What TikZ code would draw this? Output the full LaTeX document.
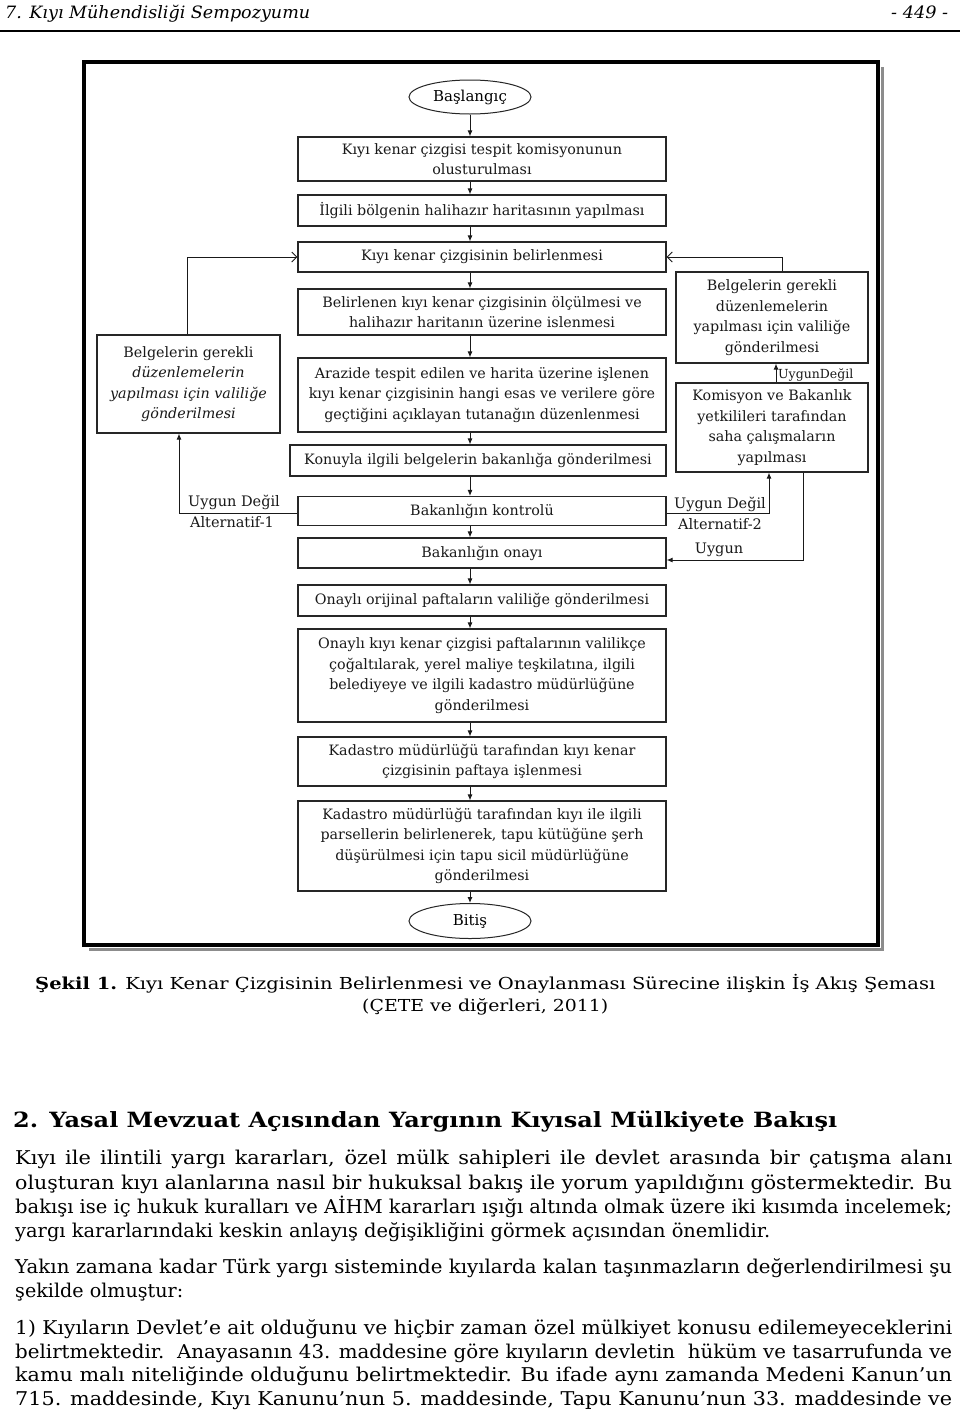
\documentclass[tikz,border=0pt]{standalone}
\usepackage{fontspec}
\usepackage{graphicx}
\setmainfont{DejaVu Serif}
\newfontfamily\bodyfam{DejaVu Serif}[FakeStretch=1.1]
\usetikzlibrary{arrows.meta,shapes.geometric}
\newcommand\flowfont{\fontsize{14.3}{20.5}\selectfont}
\newcommand\lblfont{\fontsize{14.5}{16}\selectfont}
\newcommand\bodyfont{\bodyfam\fontsize{19}{24}\selectfont}
\newcommand\fitw[2]{\resizebox{#1}{\height}{#2}}
\newcommand\jline[2]{\setbox0=\hbox{#2}\ifdim\wd0>#1\relax\resizebox{#1}{\height}{\box0}\else\hbox to #1{\unhbox0}\fi}
\tikzset{
  box/.style={draw=black!85, line width=1.1pt, rectangle, inner sep=2pt, align=center, font=\flowfont, text=black!90},
  oval/.style={draw=black!85, line width=1pt, ellipse, inner sep=0pt, font=\fontsize{15}{18}\selectfont},
  arr/.style={-{Latex[length=6pt,width=5pt]}, line width=1pt, draw=black!90},
  barb/.style={-{Straight Barb[length=5pt,width=10pt]}, line width=1pt, draw=black!90},
  lbl/.style={font=\lblfont, inner sep=0pt, text=black!90},
  ptext/.style={anchor=base west, inner sep=0pt, font=\bodyfont},
}
\begin{document}
\begin{tikzpicture}[x=1pt,y=-1pt]
\useasboundingbox (0,0) rectangle (960,1411);
\fill[white] (0,0) rectangle (960,1411);
% header
\node[anchor=base west, inner sep=0pt, font=\fontsize{17}{20}\selectfont\itshape] (hdr) at (5,18) {\fitw{305pt}{7. Kıyı Mühendisliği Sempozyumu}};
\node[anchor=base west, inner sep=0pt, font=\fontsize{17}{20}\selectfont\itshape] (pg) at (891,18) {\fitw{57pt}{- 449 -}};
\draw[line width=2pt] (0,31) -- (960,31);
% frame
\draw[black!45, line width=3pt] (882,67) -- (882,949) -- (89,949);
\draw[line width=3.5pt] (84,62) rectangle (878,945);
% flow nodes
\node[oval, minimum width=122pt, minimum height=34pt] (s) at (470,97) {Başlangıç};
\node[box, minimum width=368pt, minimum height=44pt] (b1) at (482,159) {Kıyı kenar çizgisi tespit  komisyonunun\\olusturulması};
\node[box, minimum width=368pt, minimum height=31pt] (b2) at (482,210.5) {İlgili bölgenin halihazır haritasının yapılması};
\node[box, minimum width=368pt, minimum height=30pt] (b3) at (482,257) {Kıyı  kenar çizgisinin belirlenmesi};
\node[box, minimum width=368pt, minimum height=46pt] (b4) at (482,312) {Belirlenen kıyı kenar çizgisinin ölçülmesi ve\\halihazır haritanın üzerine islenmesi};
\node[box, minimum width=368pt, minimum height=74pt] (b5) at (482,395) {Arazide tespit edilen ve harita üzerine işlenen\\kıyı kenar çizgisinin hangi esas ve verilere göre\\geçtiğini açıklayan tutanağın düzenlenmesi};
\node[box, minimum width=376pt, minimum height=31pt] (b6) at (478,460.5) {Konuyla ilgili belgelerin bakanlığa  gönderilmesi};
\node[box, minimum width=368pt, minimum height=29pt] (b7) at (482,511) {Bakanlığın kontrolü};
\node[box, minimum width=368pt, minimum height=30pt] (b8) at (482,553) {Bakanlığın onayı};
\node[box, minimum width=368pt, minimum height=31pt] (b9) at (482,600.5) {Onaylı orijinal paftaların valiliğe gönderilmesi};
\node[box, minimum width=368pt, minimum height=93pt] (b10) at (482,675.5) {Onaylı kıyı kenar çizgisi paftalarının valilikçe\\çoğaltılarak, yerel maliye teşkilatına, ilgili\\belediyeye ve ilgili kadastro müdürlüğüne\\gönderilmesi};
\node[box, minimum width=368pt, minimum height=49pt] (b11) at (482,761.5) {Kadastro müdürlüğü  tarafından kıyı kenar\\çizgisinin paftaya işlenmesi};
\node[box, minimum width=368pt, minimum height=90pt] (b12) at (482,846) {Kadastro müdürlüğü tarafından kıyı ile ilgili\\parsellerin belirlenerek, tapu kütüğüne şerh\\düşürülmesi için tapu sicil müdürlüğüne\\gönderilmesi};
\node[oval, minimum width=122pt, minimum height=35pt] (e) at (470,921) {Bitiş};
\node[box, minimum width=183pt, minimum height=98pt] (L) at (188.5,384) {Belgelerin gerekli\\\textit{düzenlemelerin}\\\textit{yapılması için valiliğe}\\\textit{gönderilmesi}};
\node[box, minimum width=192pt, minimum height=91pt] (R1) at (772,317.5) {Belgelerin gerekli\\düzenlemelerin\\yapılması için valiliğe\\gönderilmesi};
\node[box, minimum width=192pt, minimum height=89pt] (R2) at (772,427.5) {Komisyon ve Bakanlık\\yetkilileri tarafından\\saha çalışmaların\\yapılması};
% main arrows
\draw[arr] (s.south) -- (b1.north -| s.south);
\draw[arr] (b1.south -| s.south) -- (b2.north -| s.south);
\draw[arr] (b2.south -| s.south) -- (b3.north -| s.south);
\draw[arr] (b3.south -| s.south) -- (b4.north -| s.south);
\draw[arr] (b4.south -| s.south) -- (b5.north -| s.south);
\draw[arr] (b5.south -| s.south) -- (b6.north -| s.south);
\draw[arr] (b6.south -| s.south) -- (b7.north -| s.south);
\draw[arr] (b7.south -| s.south) -- (b8.north -| s.south);
\draw[arr] (b8.south -| s.south) -- (b9.north -| s.south);
\draw[arr] (b9.south -| s.south) -- (b10.north -| s.south);
\draw[arr] (b10.south -| s.south) -- (b11.north -| s.south);
\draw[arr] (b11.south -| s.south) -- (b12.north -| s.south);
\draw[arr] (b12.south -| s.south) -- (e.north);
% loops
\draw[barb] ([xshift=-1.5pt]L.north) |- (b3.west);
\draw[arr] ([yshift=-2pt]b7.west) -| ([xshift=-9.5pt]L.south);
\draw[barb] ([xshift=10pt]R1.north) |- (b3.east);
\draw[arr] ([xshift=4pt]R2.north) -- ([xshift=4pt]R1.south);
\draw[arr] ([yshift=-2pt]b7.east) -| ([xshift=-3pt]R2.south);
\draw[arr] ([xshift=31pt]R2.south) |- ([yshift=-7pt]b8.east);
% labels
\node[lbl, anchor=west, font=\fontsize{12.5}{14}\selectfont] (l0) at (778,375) {UygunDeğil};
\node[lbl] (l1) at (234,502) {Uygun Değil};
\node[lbl] (l2) at (232,522) {Alternatif-1};
\node[lbl] (l3) at (720,504) {Uygun Değil};
\node[lbl] (l4) at (720,524) {Alternatif-2};
\node[lbl] (l5) at (719,550) {Uygun};
% caption
\node[anchor=base west, inner sep=0pt, font=\fontsize{16.5}{20}\selectfont] (cap1) at (35,989) {\fitw{900pt}{\textbf{Şekil 1.} Kıyı Kenar Çizgisinin Belirlenmesi ve Onaylanması Sürecine ilişkin İş Akış Şeması}};
\node[anchor=base west, inner sep=0pt, font=\fontsize{16.5}{20}\selectfont] (cap2) at (362,1011) {\fitw{246pt}{(ÇETE ve diğerleri, 2011)}};
% heading
\node[anchor=base west, inner sep=0pt, font=\fontsize{21}{24}\selectfont\bfseries] (sec) at (13,1127) {\fitw{824pt}{2. Yasal Mevzuat Açısından Yargının Kıyısal Mülkiyete Bakışı}};
% paragraphs
\node[ptext] (p1a) at (15,1164) {\jline{937pt}{Kıyı ile ilintili yargı kararları, özel mülk sahipleri ile devlet arasında bir çatışma alanı}};
\node[ptext] (p1b) at (15,1189) {\jline{937pt}{oluşturan kıyı alanlarına nasıl bir hukuksal bakış ile yorum yapıldığını göstermektedir. Bu}};
\node[ptext] (p1c) at (15,1213) {\jline{937pt}{bakışı ise iç hukuk kuralları ve AİHM kararları ışığı altında olmak üzere iki kısımda incelemek;}};
\node[ptext] (p1d) at (15,1237) {\jline{755pt}{yargı kararlarındaki keskin anlayış değişikliğini görmek açısından önemlidir.}};
\node[ptext] (p2a) at (15,1273) {\jline{937pt}{Yakın zamana kadar Türk yargı sisteminde kıyılarda kalan taşınmazların değerlendirilmesi şu}};
\node[ptext] (p2b) at (15,1297) {\jline{168pt}{şekilde olmuştur:}};
\node[ptext] (p3a) at (15,1334) {\jline{937pt}{1) Kıyıların Devlet’e ait olduğunu ve hiçbir zaman özel mülkiyet konusu edilemeyeceklerini}};
\node[ptext] (p3b) at (15,1358) {\jline{937pt}{belirtmektedir.\ \ Anayasanın 43. maddesine göre kıyıların devletin\ \ hüküm ve tasarrufunda ve}};
\node[ptext] (p3c) at (15,1381) {\jline{937pt}{kamu malı niteliğinde olduğunu belirtmektedir. Bu ifade aynı zamanda Medeni Kanun’un}};
\node[ptext] (p3d) at (15,1405) {\jline{937pt}{715. maddesinde, Kıyı Kanunu’nun 5. maddesinde, Tapu Kanunu’nun 33. maddesinde ve}};
\end{tikzpicture}
\end{document}
